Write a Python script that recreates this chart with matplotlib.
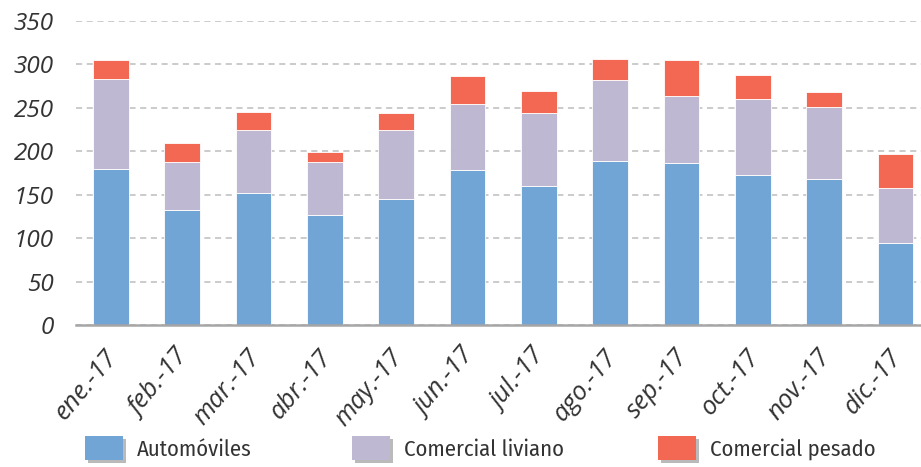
import matplotlib
matplotlib.use("Agg")
import matplotlib.pyplot as plt
import matplotlib.patheffects as pe
import matplotlib.transforms as mtransforms
from matplotlib.patches import Patch
import numpy as np

meses = ["ene.-17", "feb.-17", "mar.-17", "abr.-17", "may.-17", "jun.-17",
         "jul.-17", "ago.-17", "sep.-17", "oct.-17", "nov.-17", "dic.-17"]
automoviles = [180, 133, 152, 127, 145, 178, 160, 189, 186, 173, 168, 95]
com_liviano = [103, 55, 72, 61, 80, 77, 84, 93, 78, 87, 83, 63]
com_pesado = [22, 22, 21, 11, 19, 32, 25, 24, 41, 28, 17, 39]

series = ["Automóviles", "Comercial liviano", "Comercial pesado"]
colores = ["#71A5D6", "#BEB8D2", "#F26852"]
# left edge of each legend key, in figure pixels
leg_x = [85, 352, 658]

tick_font = ["Open Sans", "DejaVu Sans"]
leg_font = ["Fira Sans Condensed", "Roboto Condensed", "PT Sans Narrow",
            "Open Sans Condensed", "Roboto", "DejaVu Sans"]

fig = plt.figure(figsize=(9.21, 4.67), dpi=100)
ax = fig.add_axes([0.0825, 0.304, 0.9175, 0.651])

x = np.arange(len(meses))
bottom = np.zeros(len(meses))
for vals, col in zip([automoviles, com_liviano, com_pesado], colores):
    ax.bar(x, vals, width=0.5, bottom=bottom, color=col,
           edgecolor="white", linewidth=0.6, zorder=3)
    bottom += np.array(vals)

ax.set_ylim(0, 350)
ax.set_xlim(-0.49, 11.36)
ax.set_yticks(range(0, 351, 50))
ax.yaxis.grid(True, color="#BDBDBD", linestyle=(0, (4, 3)), linewidth=1.1, zorder=0)
ax.set_axisbelow(True)

for s in ["top", "right", "left"]:
    ax.spines[s].set_visible(False)
ax.spines["bottom"].set_color("#A6A6A6")
ax.spines["bottom"].set_linewidth(1.8)
ax.spines["bottom"].set_zorder(4)

ax.tick_params(axis="both", length=0)
ax.tick_params(axis="y", pad=16)
ax.tick_params(axis="x", pad=14)
ax.set_xticks(x)
ax.set_xticklabels(meses, rotation=50, ha="right", va="top", rotation_mode="anchor",
                   fontsize=18.5, fontstyle="italic", family=tick_font, color="#333333")
shift = mtransforms.ScaledTranslation(-7 / 100, 0, fig.dpi_scale_trans)
for lab in ax.get_xticklabels():
    lab.set_transform(lab.get_transform() + shift)
for lab in ax.get_yticklabels():
    lab.set_fontsize(17.5)
    lab.set_fontstyle("italic")
    lab.set_family(tick_font)
    lab.set_color("#333333")

shadow = [pe.SimplePatchShadow(offset=(2, -2), shadow_rgbFace="#777777", alpha=0.5), pe.Normal()]
for s, c, lx in zip(series, colores, leg_x):
    h = Patch(facecolor=c, edgecolor="none", label=s, path_effects=shadow)
    fig.legend(handles=[h], loc="center left", bbox_to_anchor=(lx / 921, 0.04),
               frameon=False, borderpad=0, borderaxespad=0,
               handlelength=1.68, handleheight=1.25, handletextpad=0.6,
               prop={"family": leg_font, "size": 16.3},
               labelcolor="#333333")

fig.savefig("out.png", dpi=100)
